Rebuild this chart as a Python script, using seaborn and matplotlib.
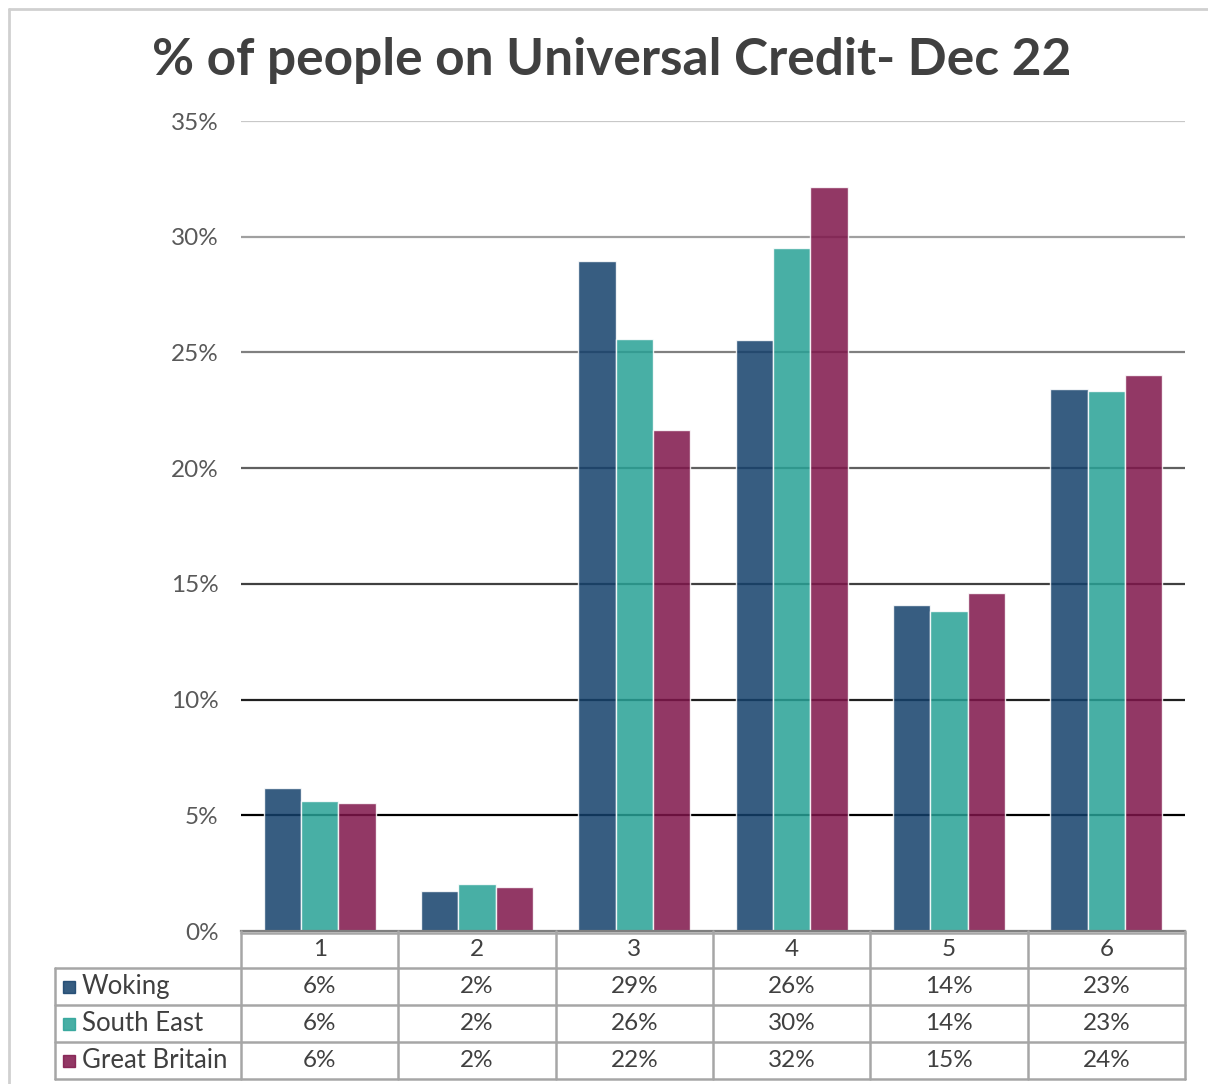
import matplotlib
matplotlib.use("Agg")
import matplotlib.pyplot as plt
import seaborn as sns
import pandas as pd
from matplotlib.lines import Line2D

# Share of people on Universal Credit, December 2022
categories = ["1", "2", "3", "4", "5", "6"]
woking = [0.0618, 0.0173, 0.2895, 0.2552, 0.1409, 0.2342]
south_east = [0.0562, 0.0203, 0.2558, 0.2953, 0.1383, 0.2334]
great_britain = [0.0553, 0.0190, 0.2165, 0.3216, 0.1460, 0.2403]
series_names = ["Woking", "South East", "Great Britain"]
series_colors = ["#14406B", "#28A196", "#7F154A"]
y_ticks = [0, 0.05, 0.10, 0.15, 0.20, 0.25, 0.30, 0.35]
grid_colors = ["#000000", "#000000", "#202020", "#404040", "#606060", "#808080", "#a0a0a0", "#c8c8c8"]

sns.set_theme(style="white")
plt.rcParams["font.family"] = ["Lato", "DejaVu Sans"]

series_values = [woking, south_east, great_britain]
df = pd.DataFrame({
    "category": categories * 3,
    "series": [s for s in series_names for _ in categories],
    "value": [v for vals in series_values for v in vals],
})

W, H = 1208, 1084
fig = plt.figure(figsize=(W / 100, H / 100), dpi=100)
fig.patch.set_facecolor("white")

left, right = 241 / W, 1185 / W
ax = fig.add_axes([left, 1 - 931 / H, right - left, (931 - 121) / H])

# graded horizontal gridlines
for t, c in zip(y_ticks[1:], grid_colors[1:]):
    ax.axhline(t, color=c, lw=1.6, zorder=0)

sns.barplot(data=df, x="category", y="value", hue="series", order=categories,
            hue_order=series_names, palette=series_colors, saturation=1,
            width=0.71, alpha=0.85, edgecolor="white", linewidth=1.0, ax=ax,
            legend=False, zorder=2)

ax.set_ylim(0, 0.35)
ax.set_xlim(-0.5, len(categories) - 0.5)
ax.set_yticks(y_ticks)
ax.set_yticklabels([f"{int(round(t * 100))}%" for t in y_ticks])
ax.tick_params(axis="y", length=0, pad=16, labelsize=17.5, labelcolor="#595959")
ax.set_xticks([])
ax.set_xlabel("")
ax.set_ylabel("")
for side in ["top", "right", "left"]:
    ax.spines[side].set_visible(False)
ax.spines["bottom"].set_color("#7f7f7f")
ax.spines["bottom"].set_linewidth(1.6)

# data table under the bars
tax = fig.add_axes([left, 1 - 1079 / H, right - left, (1079 - 931) / H])
tax.set_xlim(-0.5, len(categories) - 0.5)
tax.set_ylim(4, 0)
tax.axis("off")
line_kw = dict(color="#a6a6a6", lw=1.8, clip_on=False)
label_left = -0.5 + (55 - 241) / ((1185 - 241) / len(categories))
n = len(categories)
tax.plot([-0.5, n - 0.5], [0.06, 0.06], **line_kw)
for r in range(1, 5):
    tax.plot([label_left, n - 0.5], [r, r], **line_kw)
for i in range(n + 1):
    tax.plot([i - 0.5, i - 0.5], [0, 4], **line_kw)
tax.plot([label_left, label_left], [1, 4], **line_kw)

text_color = "#404040"
for i, cat in enumerate(categories):
    tax.text(i, 0.5, cat, ha="center", va="center", fontsize=17.5, color=text_color)
for r, (name, vals, col) in enumerate(zip(series_names, series_values, series_colors), start=1):
    for i, v in enumerate(vals):
        tax.text(i, r + 0.5, f"{v * 100:.0f}%", ha="center", va="center",
                 fontsize=17.5, color=text_color)
    tax.plot([label_left + 0.087], [r + 0.5], marker="s", markersize=9,
             color=col, alpha=0.85, clip_on=False)
    tax.text(label_left + 0.17, r + 0.5, name, ha="left", va="center",
             fontsize=18.5, color=text_color)

fig.text(0.506, 1 - 61 / H, "% of people on Universal Credit- Dec 22",
         ha="center", va="center", fontsize=37, fontweight="bold", color="#404040")

# chart border
fig.add_artist(Line2D([9 / W, 1], [1 - 9 / H, 1 - 9 / H], color="#d0d0d0", lw=2,
                      transform=fig.transFigure))
fig.add_artist(Line2D([9 / W, 9 / W], [0, 1 - 9 / H], color="#d0d0d0", lw=2,
                      transform=fig.transFigure))

fig.savefig("out.png", dpi=100, facecolor="white")
